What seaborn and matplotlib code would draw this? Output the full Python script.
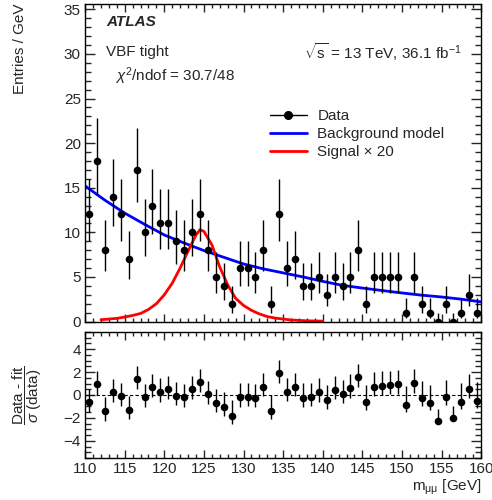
import numpy as np
import pandas as pd
import matplotlib
matplotlib.use('Agg')
import matplotlib.pyplot as plt
import seaborn as sns
from matplotlib.ticker import MultipleLocator
from matplotlib.lines import Line2D

# bin centres (1 GeV bins) and event counts
mass = np.arange(110.5, 160.0, 1.0)
counts = [12, 18, 8, 14, 12, 7, 17, 10, 13, 11,
          11, 9, 8, 10, 12, 8, 5, 4, 2, 6,
          6, 5, 8, 2, 12, 6, 7, 4, 4, 5,
          3, 5, 4, 5, 8, 2, 5, 5, 5, 5,
          1, 5, 2, 1, 0, 2, 0, 1, 3, 1]

# (data - fit) / sigma
resid = [-0.64, 0.93, -1.39, 0.29, -0.09, -1.30, 1.39, -0.20, 0.72, 0.29,
         0.49, -0.06, -0.20, 0.49, 1.10, 0.06, -0.72, -1.01, -1.83, -0.20,
         -0.14, -0.29, 0.72, -1.39, 1.94, 0.29, 0.72, -0.23, -0.20, 0.23,
         -0.43, 0.41, 0.06, 0.58, 1.54, -0.58, 0.72, 0.81, 0.87, 0.93,
         -0.87, 1.01, -0.23, -0.72, -2.23, -0.14, -2.00, -0.58, 0.49, -0.52]

# background model
bkg_x = [110, 112.5, 115, 117.5, 120, 122.5, 125, 127.5, 130, 132.5, 135,
         137.5, 140, 142.5, 145, 147.5, 150, 152.5, 155, 157.5, 160]
bkg_y = [15.2, 13.6, 12.15, 10.9, 9.7, 8.8, 7.95, 7.2, 6.45, 5.9, 5.45,
         5.0, 4.5, 4.05, 3.75, 3.47, 3.2, 2.95, 2.75, 2.5, 2.2]

# signal x 20
sig_x = [112, 114, 115, 116, 117, 118, 119, 120, 121, 122, 123, 124, 124.5,
         125, 126, 127, 128, 129, 130, 131, 132, 133, 134, 136, 138, 140]
sig_y = [0.2, 0.35, 0.5, 0.68, 0.9, 1.35, 2.0, 3.0, 4.3, 6.0, 7.9, 9.7, 10.3,
         10.1, 8.6, 6.1, 4.1, 2.6, 1.8, 1.25, 0.85, 0.55, 0.38, 0.17, 0.08, 0.04]

n = np.array(counts, dtype=float)
err_up = 0.5 + np.sqrt(n + 0.25)
err_dn = -0.5 + np.sqrt(n + 0.25)
sig_n = np.sqrt(np.maximum(n, 1))

sns.set_style('ticks')
plt.rcParams['font.family'] = ['Liberation Sans', 'DejaVu Sans']
plt.rcParams['mathtext.fontset'] = 'custom'
plt.rcParams['mathtext.rm'] = 'Liberation Sans'
plt.rcParams['mathtext.it'] = 'Liberation Sans:italic'
plt.rcParams['font.size'] = 11

fig = plt.figure(figsize=(4.92, 5), dpi=100)
ax1 = fig.add_axes([0.173, 0.357, 0.805, 0.635])
ax2 = fig.add_axes([0.173, 0.084, 0.805, 0.252])

df = pd.DataFrame({'mass': mass, 'counts': counts, 'resid': resid})

# top panel
sns.lineplot(x=bkg_x, y=bkg_y, ax=ax1, color='blue', lw=2)
sns.lineplot(x=sig_x, y=sig_y, ax=ax1, color='red', lw=2)
ax1.errorbar(df['mass'], df['counts'], yerr=[err_dn, err_up], fmt='none',
             ecolor='black', elinewidth=1, capsize=0, zorder=3)
sns.scatterplot(data=df, x='mass', y='counts', ax=ax1, color='black', s=30,
                edgecolor='black', linewidth=0, zorder=4)

ax1.set_xlim(110, 160)
ax1.set_ylim(0, 35.6)
ax1.set_xlabel('')
ax1.set_ylabel('Entries / GeV', loc='top')
ax1.yaxis.set_label_coords(-0.146, 1.0)
ax1.tick_params(labelbottom=False)

handles = [Line2D([], [], color='black', marker='o', markersize=5.5, lw=1),
           Line2D([], [], color='blue', lw=2),
           Line2D([], [], color='red', lw=2)]
ax1.legend(handles, ['Data', 'Background model', 'Signal \u00d7 20'],
           loc='upper left', bbox_to_anchor=(0.467, 0.668), frameon=False,
           borderpad=0, borderaxespad=0, handlelength=2.4, handletextpad=0.7,
           labelspacing=0.25)

ax1.text(0.053, 0.943, 'ATLAS', transform=ax1.transAxes, fontweight='bold',
         fontstyle='italic', va='center', ha='left')
ax1.text(0.053, 0.848, 'VBF tight', transform=ax1.transAxes, va='center', ha='left')
ax1.text(0.076, 0.772, r'$\chi^{2}$/ndof = 30.7/48', transform=ax1.transAxes,
         va='center', ha='left')
ax1.text(0.952, 0.848, r'$\sqrt{\mathrm{s}}$ = 13 TeV, 36.1 fb$^{-1}$',
         transform=ax1.transAxes, va='center', ha='right')

# bottom panel
ax2.axhline(0, color='black', lw=0.8, ls=(0, (3, 2)))
ax2.errorbar(df['mass'], df['resid'], yerr=[err_dn / sig_n, err_up / sig_n],
             fmt='none', ecolor='black', elinewidth=1, capsize=0, zorder=3)
sns.scatterplot(data=df, x='mass', y='resid', ax=ax2, color='black', s=30,
                edgecolor='black', linewidth=0, zorder=4)
ax2.set_xlim(110, 160)
ax2.set_ylim(-5.5, 5.5)
ax2.set_xlabel(r'm$_{\mathregular{\mu\mu}}$ [GeV]', loc='right')
ax2.xaxis.set_label_coords(1.0, -0.16)
ax2.set_ylabel(r'$\dfrac{\text{Data - fit}}{\sigma\ \text{(data)}}$', fontsize=11)
ax2.yaxis.set_label_coords(-0.105, 0.5)

for ax in (ax1, ax2):
    ax.xaxis.set_major_locator(MultipleLocator(5))
    ax.xaxis.set_minor_locator(MultipleLocator(1))
    ax.tick_params(which='both', direction='in', top=True, right=True, width=1)
    ax.tick_params(axis='y', which='major', length=7, pad=3)
    ax.tick_params(axis='y', which='minor', length=4)
    ax.tick_params(axis='x', which='major', length=6, pad=3)
    ax.tick_params(axis='x', which='minor', length=3)
    for sp in ax.spines.values():
        sp.set_linewidth(1)
        sp.set_color('black')
ax1.yaxis.set_major_locator(MultipleLocator(5))
ax1.yaxis.set_minor_locator(MultipleLocator(1))
ax2.yaxis.set_major_locator(MultipleLocator(2))
ax2.yaxis.set_minor_locator(MultipleLocator(0.5))

fig.savefig('out.png', dpi=100)
